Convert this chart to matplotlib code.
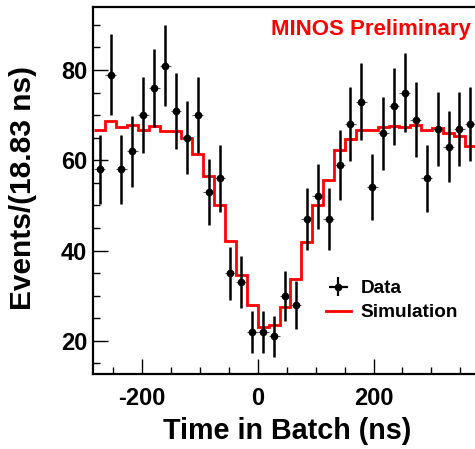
import numpy as np
import matplotlib
matplotlib.use('Agg')
import matplotlib.pyplot as plt
from matplotlib.ticker import MultipleLocator
from matplotlib.lines import Line2D

plt.rcParams['font.family'] = ['Liberation Sans', 'DejaVu Sans']
plt.rcParams['font.weight'] = 'bold'
plt.rcParams['axes.unicode_minus'] = False

# ---- data ----
bin_width = 18.83
first_bin = -15
data_counts = [58, 79, 58, 62, 70, 76, 81, 71, 65, 70, 53, 56, 35, 33, 22,
               22, 21, 30, 28, 47, 52, 47, 59, 68, 73, 54, 66, 72, 75, 69,
               56, 67, 63, 67, 68]
data_errors = [7.6, 8.9, 7.6, 7.9, 8.4, 8.7, 9.0, 8.4, 8.1, 8.4, 7.3, 7.5,
               5.9, 5.7, 4.7, 4.7, 4.6, 5.5, 5.3, 6.9, 7.2, 6.9, 7.7, 8.2,
               8.5, 7.3, 8.1, 8.5, 8.7, 8.3, 7.5, 8.2, 7.9, 8.2, 8.2]
sim_counts = [66.7, 68.7, 67.3, 67.9, 66.7, 67.6, 66.5, 66.4, 65.0, 61.3,
              56.6, 50.0, 42.2, 34.7, 28.0, 23.0, 23.5, 27.6, 33.6, 42.0,
              50.2, 55.7, 62.2, 64.7, 66.7, 66.8, 67.4, 67.6, 67.4, 67.9,
              66.7, 67.2, 66.1, 65.3, 63.2]
x_ticks = [-200, 0, 200]
y_ticks = [20, 40, 60, 80]

n = len(data_counts)
edges = bin_width * np.arange(first_bin, first_bin + n + 1)
centers = 0.5 * (edges[:-1] + edges[1:])

fig = plt.figure(figsize=(4.75, 4.49), dpi=100)
ax = fig.add_axes([0.1952, 0.1664, 0.8228, 0.8173])

ax.stairs(sim_counts, edges, baseline=None, color='#ff0000', lw=2.0, zorder=2)

ax.errorbar(centers, data_counts, xerr=bin_width / 2, fmt='none',
            ecolor='0.35', elinewidth=0.8, capsize=0, zorder=3)
ax.errorbar(centers, data_counts, yerr=data_errors, fmt='o', color='black',
            ms=4.5, elinewidth=1.8, capsize=0, zorder=4)

ax.set_xlim(-285, 390)
ax.set_ylim(12.6, 93.9)
ax.set_xticks(x_ticks)
ax.set_yticks(y_ticks)
ax.xaxis.set_minor_locator(MultipleLocator(50))
ax.yaxis.set_minor_locator(MultipleLocator(5))
ax.tick_params(which='major', direction='in', length=11, width=1.0,
               labelsize=17)
ax.tick_params(which='minor', direction='in', length=5, width=1.0)
ax.tick_params(axis='x', pad=9)
ax.tick_params(axis='y', pad=4)
for lab in ax.get_xticklabels() + ax.get_yticklabels():
    lab.set_fontweight('bold')
for s in ax.spines.values():
    s.set_linewidth(1.6)

fig.text(23 / 475, 1 - 188 / 449, 'Events/(18.83 ns)', rotation=90,
         ha='center', va='center', fontsize=21.5, fontweight='bold')
fig.text(287 / 475, 1 - 431 / 449, 'Time in Batch (ns)', ha='center',
         va='center', fontsize=20.7, fontweight='bold')
fig.text(471 / 475, 1 - 30 / 449, 'MINOS Preliminary', ha='right',
         va='center', fontsize=16, fontweight='bold', color='#ff0000')

data_handle = ax.errorbar([np.nan], [np.nan], yerr=[1], xerr=[1], fmt='o',
                          color='black', ms=4.5, elinewidth=1.6, capsize=0)
sim_handle = Line2D([], [], color='#ff0000', lw=2.0)
ax.legend([data_handle, sim_handle], ['Data', 'Simulation'],
          loc='upper left', bbox_to_anchor=(326 / 475, 1 - 280 / 449),
          bbox_transform=fig.transFigure, frameon=False, fontsize=13.7,
          handlelength=1.3, handletextpad=0.5, labelspacing=0.35,
          borderpad=0, borderaxespad=0)

fig.savefig('out.png', dpi=100)
